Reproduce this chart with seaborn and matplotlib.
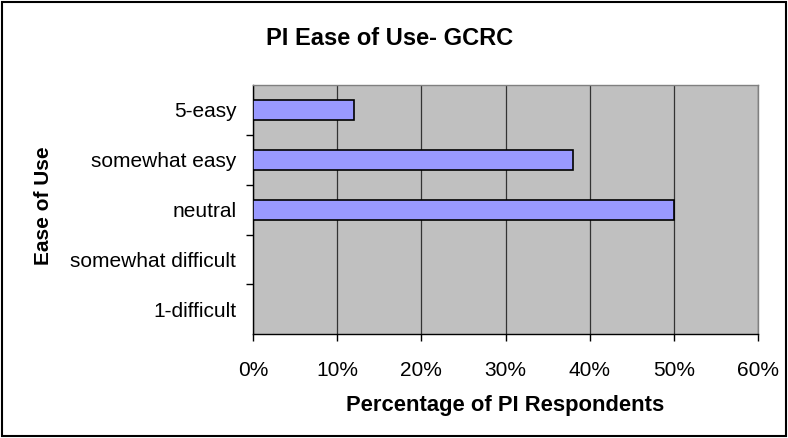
import matplotlib
matplotlib.use("Agg")
import matplotlib.pyplot as plt
import seaborn as sns
import pandas as pd
from matplotlib.ticker import FixedLocator, PercentFormatter
from matplotlib.patches import Rectangle

categories = ["5-easy", "somewhat easy", "neutral", "somewhat difficult", "1-difficult"]
percentages = [12, 38, 50, 0, 0]
x_ticks = [0, 10, 20, 30, 40, 50, 60]

sns.set_theme(style="white")
plt.rcParams['font.family'] = ['Liberation Sans', 'DejaVu Sans']
plt.rcParams['text.color'] = 'black'
plt.rcParams['axes.labelcolor'] = 'black'

df = pd.DataFrame({"cat": categories, "pct": percentages})

fig = plt.figure(figsize=(7.88, 4.38), dpi=100)
ax = fig.add_axes([0.321, 0.237, 0.641, 0.569])
ax.set_facecolor("#C0C0C0")

sns.barplot(data=df, y="cat", x="pct", orient="h", order=categories,
            color="#9999FF", edgecolor="black", linewidth=1.2, width=0.4,
            saturation=1, ax=ax, zorder=3)

ax.set_xlim(0, 60)
ax.set_ylim(len(categories) - 0.5, -0.5)
ax.xaxis.set_major_locator(FixedLocator(x_ticks))
ax.xaxis.set_major_formatter(PercentFormatter(decimals=0))
ax.grid(axis="x", color="#333333", linewidth=0.9, zorder=1)
ax.set_axisbelow(True)

ax.yaxis.set_minor_locator(FixedLocator([i + 0.5 for i in range(len(categories) - 1)]))
ax.tick_params(axis="y", which="major", length=0, labelsize=15, pad=12, colors="black")
ax.tick_params(axis="y", which="minor", length=5, width=1, color="black", direction="out", left=True)
ax.tick_params(axis="x", which="major", length=5, width=1, color="black", direction="out",
               bottom=True, labelsize=15, pad=14, colors="black")

for side in ["left", "bottom"]:
    ax.spines[side].set_visible(True)
    ax.spines[side].set_color("black")
    ax.spines[side].set_linewidth(1.0)
for side in ["top", "right"]:
    ax.spines[side].set_visible(True)
    ax.spines[side].set_color("#808080")
    ax.spines[side].set_linewidth(1.0)

ax.set_xlabel("Percentage of PI Respondents", fontsize=15.8, fontweight="bold", labelpad=11, color="black")
ax.set_ylabel("Ease of Use", fontsize=15, fontweight="bold", color="black")
ax.yaxis.set_label_coords(-0.395, 0.515)

fig.text(0.495, 0.913, "PI Ease of Use- GCRC", ha="center", va="center",
         fontsize=17, fontweight="bold", color="black")

fig.patches.append(Rectangle((0.003, 0.005), 0.994, 0.99, transform=fig.transFigure,
                             fill=False, edgecolor="black", linewidth=1.5))

fig.savefig("out.png", dpi=100)
